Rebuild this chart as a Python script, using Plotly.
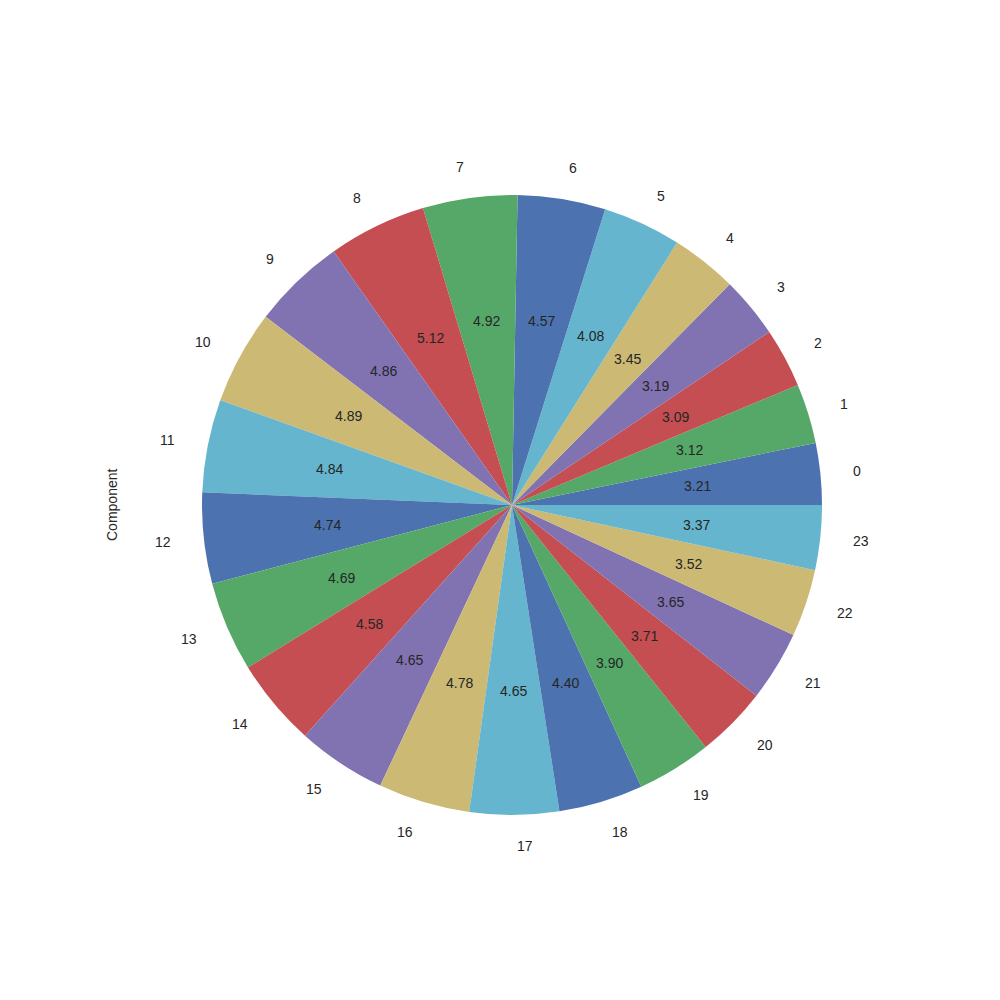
import math
import plotly.graph_objects as go

labels = [str(i) for i in range(24)]
values = [3.21, 3.12, 3.09, 3.19, 3.45, 4.08, 4.57, 4.92, 5.12, 4.86, 4.89, 4.84,
          4.74, 4.69, 4.58, 4.65, 4.78, 4.65, 4.40, 3.90, 3.71, 3.65, 3.52, 3.37]
palette = ["#4C72B0", "#55A868", "#C44E52", "#8172B2", "#CCB974", "#64B5CD"]
colors = [palette[i % len(palette)] for i in range(len(values))]

total = sum(values)
cx, cy, r = 0.512, 0.495, 0.31
fig = go.Figure(go.Pie(
    labels=labels, values=values, sort=False, direction="counterclockwise",
    rotation=90 - 360.0 * values[0] / total, textinfo="none", hoverinfo="skip",
    showlegend=False,
    marker=dict(colors=colors, line=dict(width=0)),
    domain=dict(x=[cx - r, cx + r], y=[cy - r, cy + r]),
))

cum = 0.0
annotations = []
for lab, v in zip(labels, values):
    ang = math.radians(360.0 * (cum + v / 2) / total)
    cum += v
    pct = 100.0 * v / total
    annotations.append(dict(x=cx + 0.6 * r * math.cos(ang), y=cy + 0.6 * r * math.sin(ang),
                            xref="paper", yref="paper", text=f"{pct:.2f}", showarrow=False,
                            xanchor="center", yanchor="middle",
                            font=dict(size=14, color="#262626")))
    annotations.append(dict(x=cx + 1.1 * r * math.cos(ang), y=cy + 1.1 * r * math.sin(ang),
                            xref="paper", yref="paper", text=lab, showarrow=False,
                            xanchor="left" if math.cos(ang) > 0 else "right",
                            yanchor="middle",
                            font=dict(size=14, color="#262626")))
annotations.append(dict(x=0.112, y=0.495, xref="paper", yref="paper", text="Component",
                        textangle=-90, showarrow=False, xanchor="center", yanchor="middle",
                        font=dict(size=14, color="#262626")))

fig.update_layout(width=1000, height=1000, margin=dict(l=0, r=0, t=0, b=0),
                  paper_bgcolor="white", plot_bgcolor="white",
                  font=dict(family="Liberation Sans, Arial, sans-serif"),
                  annotations=annotations)
fig.write_html("out.html")
